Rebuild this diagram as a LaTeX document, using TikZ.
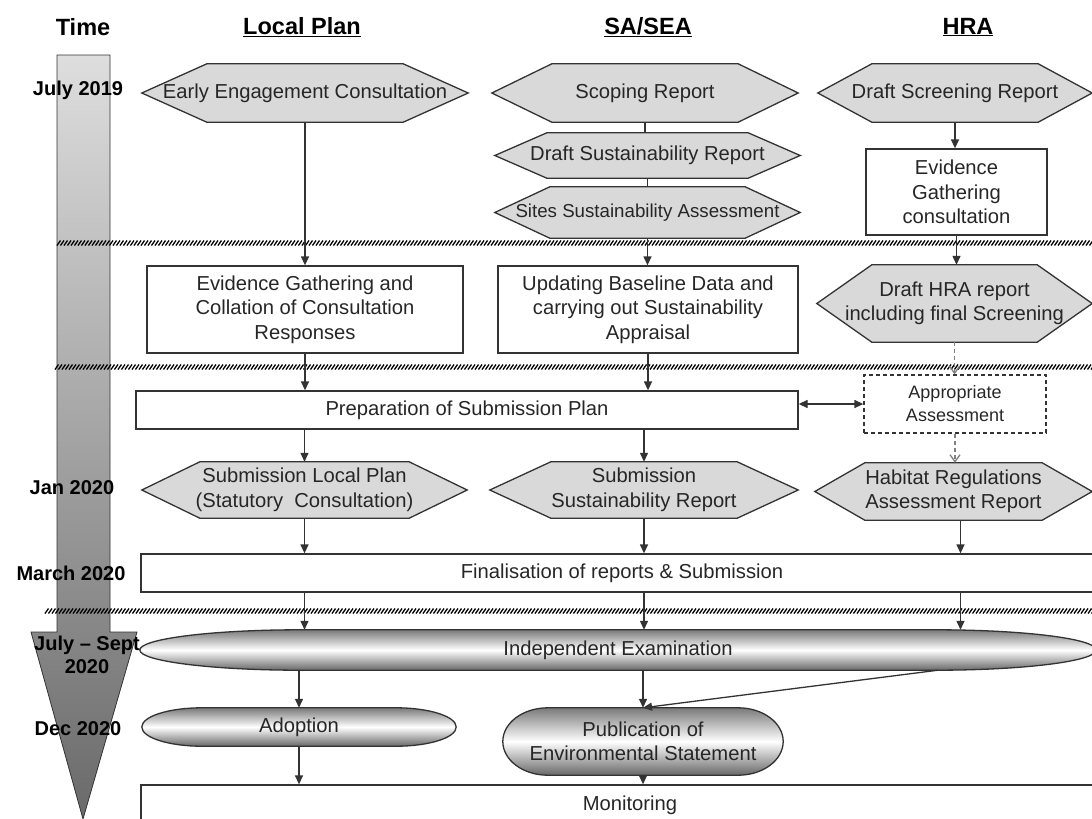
\documentclass[tikz,border=0pt]{standalone}
\usepackage{fontspec}
\setmainfont{Liberation Sans}
\usetikzlibrary{arrows.meta,shapes.geometric,backgrounds,calc}
\definecolor{hexgray}{HTML}{D9D9D9}
\definecolor{ink}{HTML}{262626}
\definecolor{edgec}{HTML}{333333}
\definecolor{shadeg}{HTML}{7A7A7A}
\definecolor{arrtop}{HTML}{DEDEDE}
\definecolor{arrbot}{HTML}{6A6A6A}
\newcommand\drawhex[2]{\path[hexshape] (#1.west) -- ([xshift=#2pt]#1.north west) -- ([xshift=-#2pt]#1.north east) -- (#1.east) -- ([xshift=-#2pt]#1.south east) -- ([xshift=#2pt]#1.south west) -- cycle;}
\newcommand\drawcapsule[2]{\path[capsule] (#1.west) .. controls ($(#1.west)!0.552!(#1.north west)$) and ($(#1.north west)+(0.448*#2,0)$) .. ($(#1.north west)+(#2,0)$) -- ($(#1.north east)+(-#2,0)$) .. controls ($(#1.north east)+(-0.448*#2,0)$) and ($(#1.east)!0.552!(#1.north east)$) .. (#1.east) .. controls ($(#1.east)!0.552!(#1.south east)$) and ($(#1.south east)+(-0.448*#2,0)$) .. ($(#1.south east)+(-#2,0)$) -- ($(#1.south west)+(#2,0)$) .. controls ($(#1.south west)+(0.448*#2,0)$) and ($(#1.west)!0.552!(#1.south west)$) .. (#1.west) -- cycle;}
\tikzset{
 txt/.style={font=\fontsize{20.2}{24.5}\selectfont, text=ink, align=center, inner sep=0pt},
 hexn/.style={txt, rectangle},
 boxn/.style={txt, rectangle, draw=edgec, line width=1.3pt},
 hexshape/.style={fill=hexgray, draw=edgec, line width=1.3pt},
 capsule/.style={draw=edgec, line width=1.3pt, top color=shadeg, bottom color=shadeg!85!black, middle color=white},
 conn/.style={draw=edgec, line width=1.3pt},
 arr/.style={conn, -{Triangle[length=9pt,width=8pt]}},
 dblarr/.style={conn, {Triangle[length=9pt,width=8pt]}-{Triangle[length=9pt,width=8pt]}},
 dasharr/.style={draw=gray, line width=1.3pt, dash pattern=on 4pt off 3pt, -{Straight Barb[length=7pt,width=10pt]}},
 timelbl/.style={font=\fontsize{20}{23}\selectfont\bfseries, align=center, inner sep=0pt},
 header/.style={font=\fontsize{23.5}{27}\selectfont\bfseries, inner sep=0pt},
 hatch/.style={line width=1.3pt, black}
}
\begin{document}
\begin{tikzpicture}[x=1pt,y=-1pt]
\useasboundingbox (0,0) rectangle (1092,819);
% headers
\node[header] (hTime) at (83,27) {Time};
\node[header] (hLP) at (302,27) {\underline{Local Plan}};
\node[header] (hSA) at (648,27) {\underline{SA/SEA}};
\node[header] (hHRA) at (968,27) {\underline{HRA}};
% row 1
\node[hexn, minimum width=326, minimum height=58] (ee) at (305,93) {Early Engagement Consultation};
\node[hexn, minimum width=306, minimum height=58] (scope) at (645,93) {Scoping Report};
\node[hexn, minimum width=305, minimum height=45] (dsr) at (647.5,155.5) {Draft Sustainability Report};
\node[hexn, minimum width=305, minimum height=51, font=\fontsize{18.7}{23}\selectfont] (ssa) at (647.5,212.5) {Sites Sustainability Assessment};
\node[hexn, minimum width=274, minimum height=58] (dscr) at (955,93) {Draft Screening Report};
\node[boxn, minimum width=181, minimum height=86] (evg) at (956.5,192) {Evidence\\Gathering\\consultation};
% row 2
\node[boxn, minimum width=316, minimum height=87] (egc) at (305,309.5) {Evidence Gathering and\\Collation of Consultation\\Responses};
\node[boxn, minimum width=300, minimum height=87] (ubd) at (648,309.5) {Updating Baseline Data and\\carrying out Sustainability\\Appraisal};
\node[hexn, minimum width=275, minimum height=77] (dhra) at (954.5,303.5) {Draft HRA report\\including final Screening};
% row 3
\node[boxn, minimum width=662, minimum height=38] (prep) at (467,410) {Preparation of Submission Plan};
\node[boxn, dash pattern=on 4pt off 3pt, minimum width=182, minimum height=58, font=\fontsize{18}{23}\selectfont] (aa) at (955,404) {Appropriate\\Assessment};
% row 4
\node[hexn, minimum width=325, minimum height=56] (slp) at (304.5,490) {Submission Local Plan\\(Statutory\ \ Consultation)};
\node[hexn, minimum width=308, minimum height=56] (ssr) at (644,490) {Submission\\Sustainability Report};
\node[hexn, minimum width=277, minimum height=57] (hab) at (953.5,491.5) {Habitat Regulations\\Assessment Report};
% row 5
\node[boxn, minimum width=962, minimum height=38] (fin) at (622,573) {Finalisation of reports \& Submission};
% row 6
\node[txt, minimum width=956, minimum height=40] (ind) at (618,650) {Independent Examination};
% row 7
\node[txt, minimum width=314, minimum height=38] (ado) at (299,727) {Adoption};
\node[txt, minimum width=280, minimum height=67] (pub) at (643,741.5) {Publication of\\Environmental Statement};
% row 8
\node[boxn, minimum width=978, minimum height=40] (mon) at (630,805) {Monitoring};
% time labels
\node[timelbl] (t1) at (78,90) {July 2019};
\node[timelbl] (t2) at (72,488) {Jan 2020};
\node[timelbl] (t3) at (71,573) {March 2020};
\node[timelbl] (t4) at (87,654.5) {July -- Sept\\2020};
\node[timelbl] (t5) at (78,729) {Dec 2020};
% background shapes
\begin{scope}[on background layer]
\path[draw=edgec, line width=0.8pt, top color=arrtop, bottom color=arrbot] (57,55) -- (110,55) -- (110,632) -- (137,632) -- (83,819) -- (31,632) -- (57,632) -- cycle;
\foreach \x in {57,60.5,...,1092} \draw[hatch] (\x,245.5) -- (\x+3.5,240.5);
\foreach \x in {55,58.5,...,1092} \draw[hatch] (\x,369.5) -- (\x+3.5,364.5);
\foreach \x in {45,48.5,...,1092} \draw[hatch] (\x,613.5) -- (\x+3.5,608.5);
\drawhex{ee}{65}
\drawhex{scope}{60}
\drawhex{dsr}{52}
\drawhex{ssa}{55}
\drawhex{dscr}{54}
\drawhex{dhra}{55}
\drawhex{slp}{58}
\drawhex{ssr}{61}
\drawhex{hab}{50}
\drawcapsule{ind}{160}
\drawcapsule{ado}{60}
\drawcapsule{pub}{45}
\end{scope}
% connectors
\draw[arr] (ee) -- (egc);
\draw[conn] (scope.south) -- (scope.south |- dsr.north);
\draw[conn] (dsr.south) -- (dsr.south |- ssa.north);
\draw[arr] (ssa.south) -- (ssa.south |- ubd.north);
\draw[arr] (dscr.south) -- (dscr.south |- evg.north);
\draw[arr] (evg.south) -- (evg.south |- dhra.north);
\draw[arr] (egc.south) -- (egc.south |- prep.north);
\draw[arr] (ubd.south) -- (ubd.south |- prep.north);
\draw[dblarr] (aa.west -| prep.east) -- (aa.west);
\draw[dasharr] (dhra.south) -- (dhra.south |- aa.north);
\draw[dasharr] (aa.south) -- (aa.south |- hab.north);
\draw[arr] (slp.north |- prep.south) -- (slp.north);
\draw[arr] (ssr.north |- prep.south) -- (ssr.north);
\draw[arr] (slp.south) -- (slp.south |- fin.north);
\draw[arr] (ssr.south) -- (ssr.south |- fin.north);
\draw[arr] ([xshift=7pt]hab.south) -- ([xshift=7pt]hab.south |- fin.north);
\draw[arr] (slp.south |- fin.south) -- (slp.south |- ind.north);
\draw[arr] (ssr.south |- fin.south) -- (ssr.south |- ind.north);
\draw[arr] ([xshift=7pt]hab.south |- fin.south) -- ([xshift=7pt]hab.south |- ind.north);
\draw[arr] (ado.north |- ind.south) -- (ado.north);
\draw[arr] (pub.north |- ind.south) -- (pub.north);
\draw[arr] ([xshift=320pt]ind.south) -- (pub.north);
\draw[arr] (ado.south) -- (ado.south |- mon.north);
\draw[arr] (pub.south) -- (pub.south |- mon.north);
\end{tikzpicture}
\end{document}
